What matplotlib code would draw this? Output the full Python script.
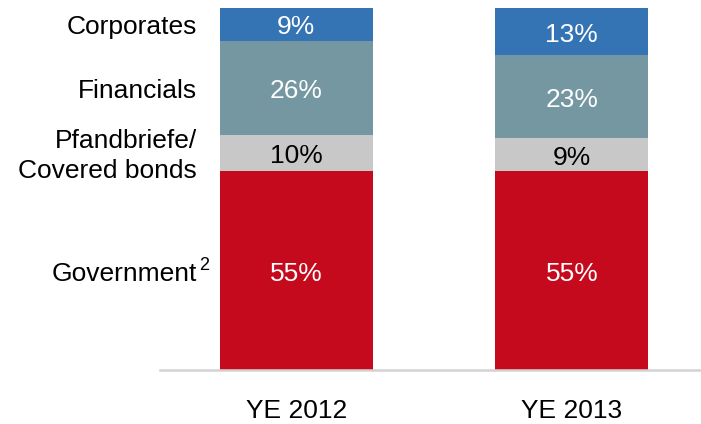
import numpy as np
import matplotlib
matplotlib.use("Agg")
import matplotlib.pyplot as plt

plt.rcParams['font.family'] = ['Liberation Sans', 'DejaVu Sans']

#----------------------------------------------------------------------
# data (shares in %)
years = ["YE 2012", "YE 2013"]
segments = ["Government", "Pfandbriefe/\nCovered bonds", "Financials", "Corporates"]
government = [55, 55]
pfandbriefe = [10, 9]
financials = [26, 23]
corporates = [9, 13]

colors = ["#C50A1E", "#C8C8C8", "#7597A1", "#3473B4"]
text_colors = ["white", "black", "white", "white"]

#----------------------------------------------------------------------

fig = plt.figure(figsize=(7.01, 4.24), dpi=100)
ax = fig.add_axes([160/701, 1-370/424, 541/701, 362/424])

dy = -2.2  # small downward nudge for the labels (points)

x = np.arange(len(years))
width = 0.555
bottom = np.zeros(len(years))
series = [government, pfandbriefe, financials, corporates]
for vals, col, tcol in zip(series, colors, text_colors):
    vals = np.array(vals, dtype=float)
    ax.bar(x, vals, width=width, bottom=bottom, color=col, edgecolor="none")
    for xi, b, v in zip(x, bottom, vals):
        ax.annotate("%d%%" % v, xy=(xi, b + v/2), xytext=(0, dy),
                    textcoords="offset points", ha="center", va="center",
                    color=tcol, fontsize=19)
    bottom += vals

# segment names on the left, at the centres of the first bar
label_x = -0.361
b = 0.0
for name, vals in zip(segments, series):
    yc = b + vals[0]/2
    ax.annotate(name, xy=(label_x, yc), xytext=(0, dy),
                textcoords="offset points", ha="right", va="center",
                fontsize=19, linespacing=1.35)
    if name == "Government":
        ax.annotate("2", xy=(label_x, yc), xytext=(1.5, dy),
                    textcoords="offset points", ha="left", va="bottom",
                    fontsize=13)
    b += vals[0]

ax.set_xlim(-0.495, -0.495 + 541/275.5)
ax.set_ylim(0, 100)
ax.set_xticks(x)
ax.set_xticklabels(years, fontsize=19)
ax.tick_params(axis="x", length=0, pad=21)
ax.set_yticks([])
for s in ["top", "left", "right"]:
    ax.spines[s].set_visible(False)
ax.spines["bottom"].set_color("#D3D3D3")
ax.spines["bottom"].set_linewidth(1.8)

fig.savefig("out.png", dpi=100)
